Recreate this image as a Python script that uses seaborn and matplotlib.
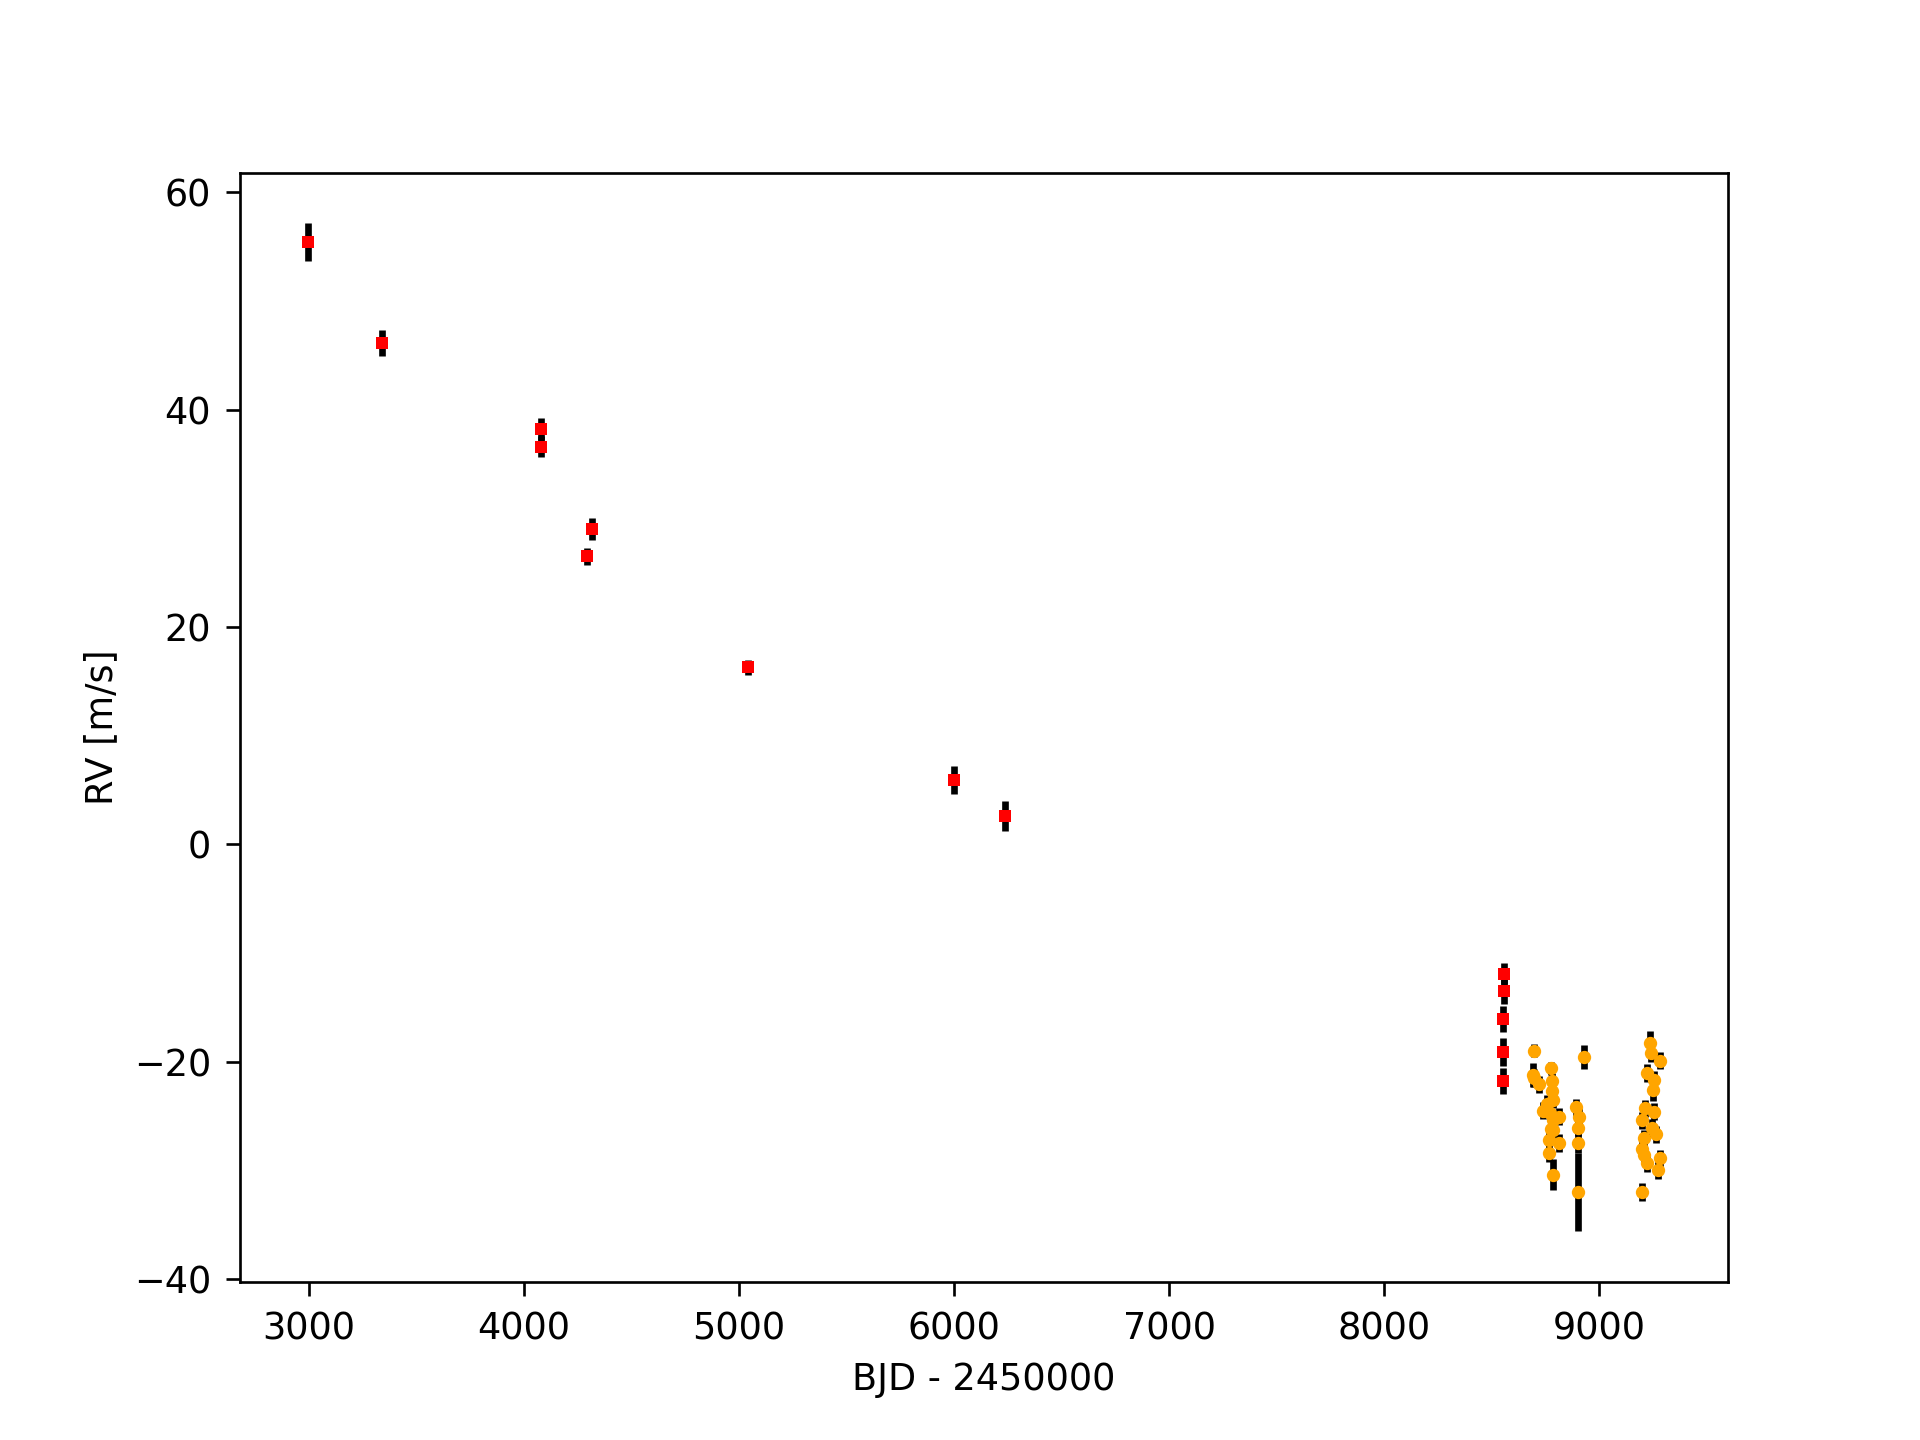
import numpy as np
import pandas as pd
import matplotlib
matplotlib.use("Agg")
import matplotlib.pyplot as plt
import seaborn as sns

plt.rcParams["font.size"] = 11

# -----------------------------
# data
# -----------------------------

# older instrument (red squares)
t_old = [2994, 3342, 4077, 4077, 4293, 4316, 5040, 5997, 6236,
         8554, 8556, 8552, 8553, 8551]
rv_old = [55.4, 46.1, 38.2, 36.6, 26.5, 29.0, 16.3, 5.9, 2.6,
          -11.9, -13.5, -16.1, -19.1, -21.8]
err_old = [1.75, 1.2, 1.0, 1.0, 0.8, 1.0, 0.7, 1.3, 1.4,
           1.0, 1.2, 1.2, 1.3, 1.2]

# newer instrument (orange circles)
t_new = [8696, 8690, 8696, 8721, 8775, 8778, 8781, 8786, 8755, 8736,
         8771, 8814, 8786, 8774, 8786, 8763, 8814, 8763, 8786,
         8926, 8892, 8907, 8898, 8902, 8902,
         9237, 9240, 9283, 9221, 9252, 9249, 9213, 9252, 9198, 9244,
         9265, 9209, 9198, 9280, 9206, 9221, 9271, 9198]
rv_new = [-19.0, -21.2, -21.5, -22.1, -20.6, -21.8, -22.7, -23.5, -23.9, -24.5,
          -24.7, -25.05, -25.35, -26.2, -26.3, -27.2, -27.5, -28.4, -30.4,
          -19.6, -24.2, -25.05, -26.06, -27.5, -32.0,
          -18.3, -19.2, -19.9, -21.05, -21.7, -22.6, -24.3, -24.6, -25.4, -26.1,
          -26.7, -27.05, -28.0, -28.9, -28.6, -29.35, -29.96, -32.0]
err_new = [0.6, 1.1, 0.8, 0.8, 0.6, 0.8, 0.8, 0.8, 0.8, 0.8,
           0.8, 0.8, 0.8, 0.8, 0.8, 0.8, 0.8, 0.8, 1.4,
           1.1, 0.8, 0.8, 0.8, 0.9, 3.6,
           1.1, 0.8, 0.8, 0.8, 0.8, 1.0, 0.8, 0.8, 0.8, 0.8,
           0.8, 0.8, 0.8, 0.8, 0.8, 0.8, 0.8, 0.8]

df_old = pd.DataFrame({"t": t_old, "rv": rv_old, "err": err_old})
df_new = pd.DataFrame({"t": t_new, "rv": rv_new, "err": err_new})

# -----------------------------
# plot
# -----------------------------

fig, ax = plt.subplots(figsize=(8, 6), dpi=240)

ax.errorbar(df_old["t"], df_old["rv"], yerr=df_old["err"], fmt="none",
            ecolor="black", elinewidth=2, zorder=2)
ax.errorbar(df_new["t"], df_new["rv"], yerr=df_new["err"], fmt="none",
            ecolor="black", elinewidth=2, zorder=2)

sns.scatterplot(data=df_old, x="t", y="rv", ax=ax, marker="s", color="red",
                s=14, linewidth=0, zorder=3)
sns.scatterplot(data=df_new, x="t", y="rv", ax=ax, marker="o", color="orange",
                s=16, linewidth=0, zorder=3)

ax.tick_params(length=4.2, pad=4.5)
ax.set_xlabel("BJD - 2450000")
ax.set_ylabel("RV [m/s]")

plt.savefig("out.png", dpi=240)
